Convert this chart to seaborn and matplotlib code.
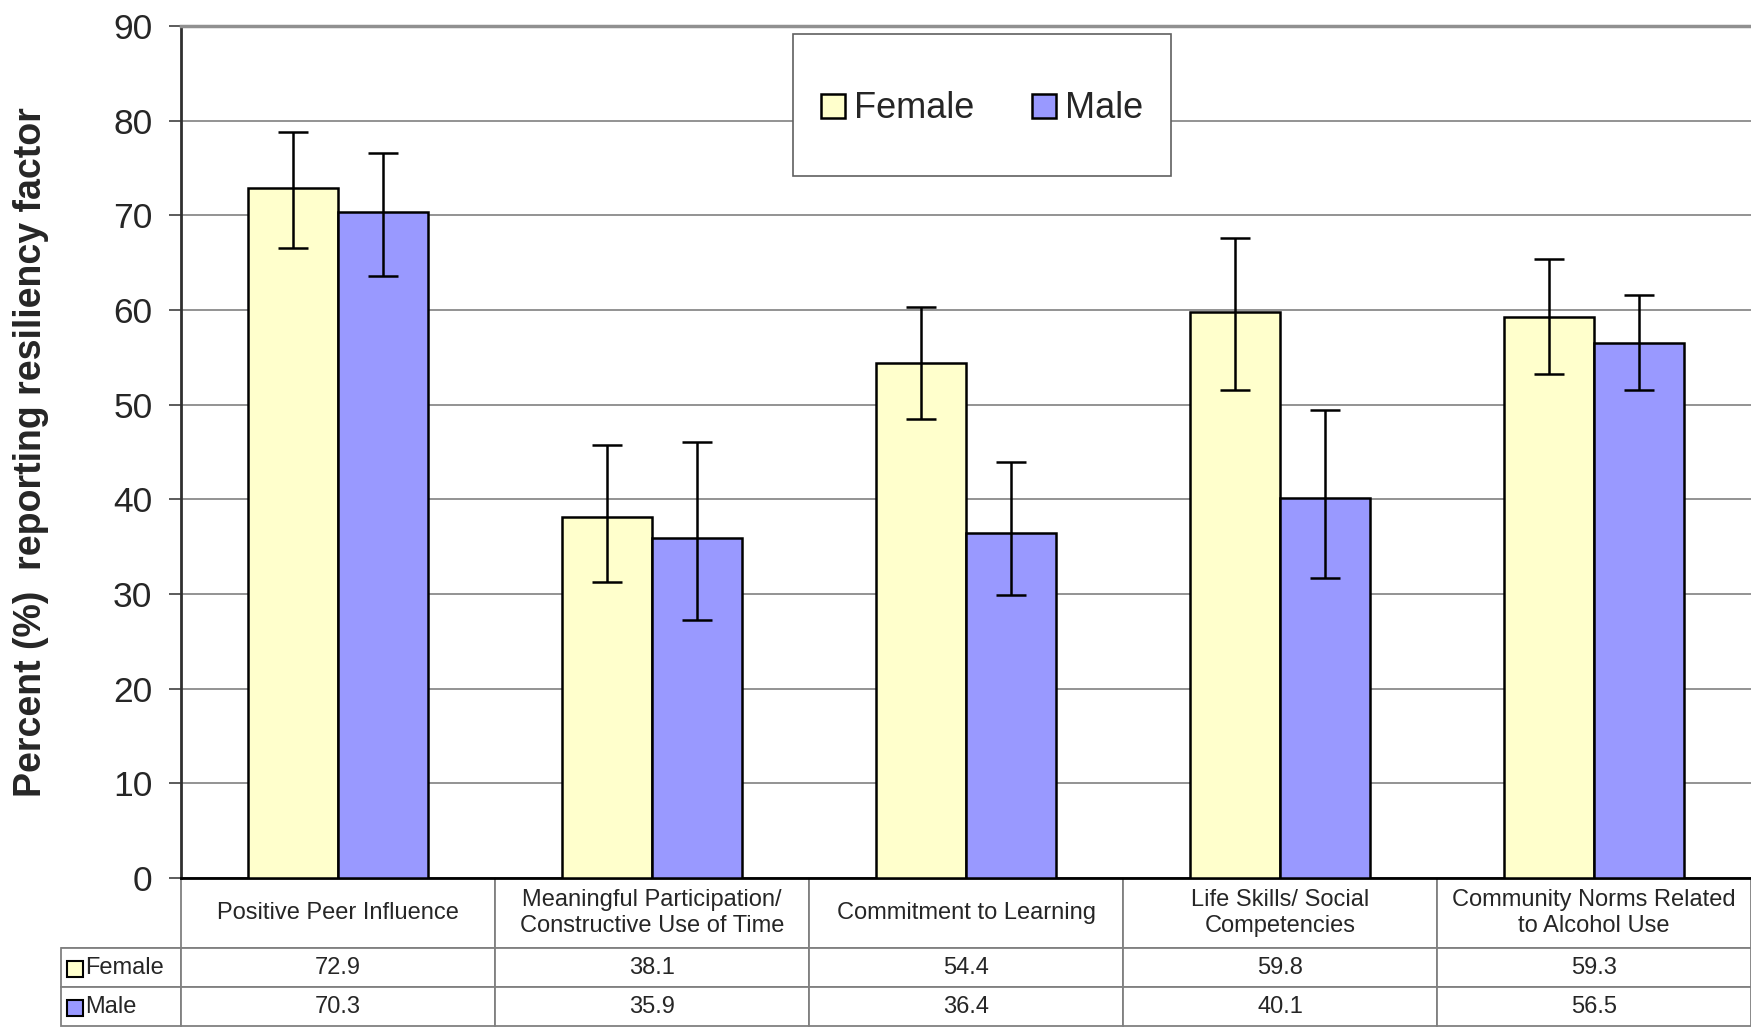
import pandas as pd
import seaborn as sns
import matplotlib.pyplot as plt
from matplotlib.patches import Patch, Rectangle

# Data

categories = ['Positive Peer Influence',
              'Meaningful Participation/\nConstructive Use of Time',
              'Commitment to Learning',
              'Life Skills/ Social\nCompetencies',
              'Community Norms Related\nto Alcohol Use']
female = [72.9, 38.1, 54.4, 59.8, 59.3]
male = [70.3, 35.9, 36.4, 40.1, 56.5]

# confidence limits (estimated from the error bars)
female_lo = [66.5, 31.3, 48.5, 51.6, 53.2]
female_hi = [78.8, 45.7, 60.3, 67.6, 65.4]
male_lo = [63.6, 27.3, 29.9, 31.7, 51.6]
male_hi = [76.6, 46.1, 43.9, 49.4, 61.6]

colors = {'Female': '#FFFFCC', 'Male': '#9999FF'}

df = pd.DataFrame({'category': categories * 2,
                   'sex': ['Female'] * 5 + ['Male'] * 5,
                   'value': female + male})

sns.set_style('white')
plt.rcParams['font.family'] = ['Liberation Sans', 'DejaVu Sans']

fig = plt.figure(figsize=(17.51, 10.29), dpi=100)
ax = fig.add_axes([181 / 1751, 1 - 878 / 1029, 1570 / 1751, 852 / 1029])

sns.barplot(data=df, x='category', y='value', hue='sex', palette=colors,
            saturation=1, edgecolor='black', linewidth=1.8, width=0.576,
            errorbar=None, legend=False, ax=ax, zorder=3)

# Error bars on top of each bar
for cont, vals, lo, hi in [(ax.containers[0], female, female_lo, female_hi),
                           (ax.containers[1], male, male_lo, male_hi)]:
    xs = [p.get_x() + p.get_width() / 2 for p in cont.patches]
    yerr = [[v - l for v, l in zip(vals, lo)], [h - v for v, h in zip(vals, hi)]]
    ax.errorbar(xs, vals, yerr=yerr, fmt='none', ecolor='black',
                elinewidth=1.8, capsize=11, capthick=1.8, zorder=4)

ax.set_xlim(-0.5, 4.5)
ax.set_ylim(0, 90)
ax.set_yticks(range(0, 91, 10))
ax.tick_params(axis='y', labelsize=25.5, length=8.5, width=1.2, color='#404040',
               pad=12, left=True)
ax.tick_params(axis='x', bottom=False, labelbottom=False)
ax.set_xlabel('')
ax.set_ylabel('Percent (%)  reporting resiliency factor', fontsize=27,
              fontweight='bold')
ax.yaxis.set_label_coords(-0.084, 0.5)

ax.yaxis.grid(True, color='#808080', linewidth=1.2, zorder=0)
ax.set_axisbelow(True)
ax.spines['top'].set_color('#909090')
ax.spines['top'].set_linewidth(2.5)
ax.spines['left'].set_color('#303030')
ax.spines['left'].set_linewidth(2)
ax.spines['bottom'].set_color('black')
ax.spines['bottom'].set_linewidth(2)
ax.spines['right'].set_visible(False)

# Legend box
box = Rectangle((793 / 1751, 1 - 176 / 1029), 378 / 1751, 142 / 1029,
                transform=fig.transFigure, facecolor='white',
                edgecolor='#606060', linewidth=1.2, zorder=5)
fig.add_artist(box)
handles = [Patch(facecolor=colors[s], edgecolor='black', linewidth=1.8)
           for s in ['Female', 'Male']]
leg = fig.legend(handles, ['Female', 'Male'], loc='center',
                 bbox_to_anchor=(982 / 1751, 1 - 109 / 1029), ncol=2,
                 frameon=False, fontsize=26, handlelength=0.67,
                 handleheight=0.67, handletextpad=0.25, columnspacing=1.6)
leg.set_zorder(6)

# Data table under the chart
cell_text = [[''] + categories,
             ['Female'] + [f'{v:.1f}' for v in female],
             ['Male'] + [f'{v:.1f}' for v in male]]
col_w = [120] + [314] * 5
tab = ax.table(cellText=cell_text, colWidths=[w / sum(col_w) for w in col_w],
               cellLoc='center', bbox=[-120 / 1570, -148 / 852, 1690 / 1570, 148 / 852])
tab.auto_set_font_size(False)
for (r, c), cell in tab.get_celld().items():
    cell.set_height(70 if r == 0 else 39)
    cell.set_edgecolor('#808080')
    cell.set_linewidth(1.3)
    cell.get_text().set_fontsize(17)
    cell.get_text().set_linespacing(1.25)
    if c == 0:
        cell._loc = 'left'
        cell.PAD = 0.2
        cell.get_text().set_ha('left')
    if r == 0 and c == 0:
        cell.visible_edges = 'B'

# Coloured keys in the row-label cells
for row_y, s in [(969, 'Female'), (1008, 'Male')]:
    ax.add_patch(Rectangle(((67 - 181) / 1570, (878 - row_y - 8) / 852),
                           16 / 1570, 16 / 852, transform=ax.transAxes,
                           facecolor=colors[s], edgecolor='black',
                           linewidth=1.5, clip_on=False, zorder=6))

fig.savefig('out.png', dpi=100)
